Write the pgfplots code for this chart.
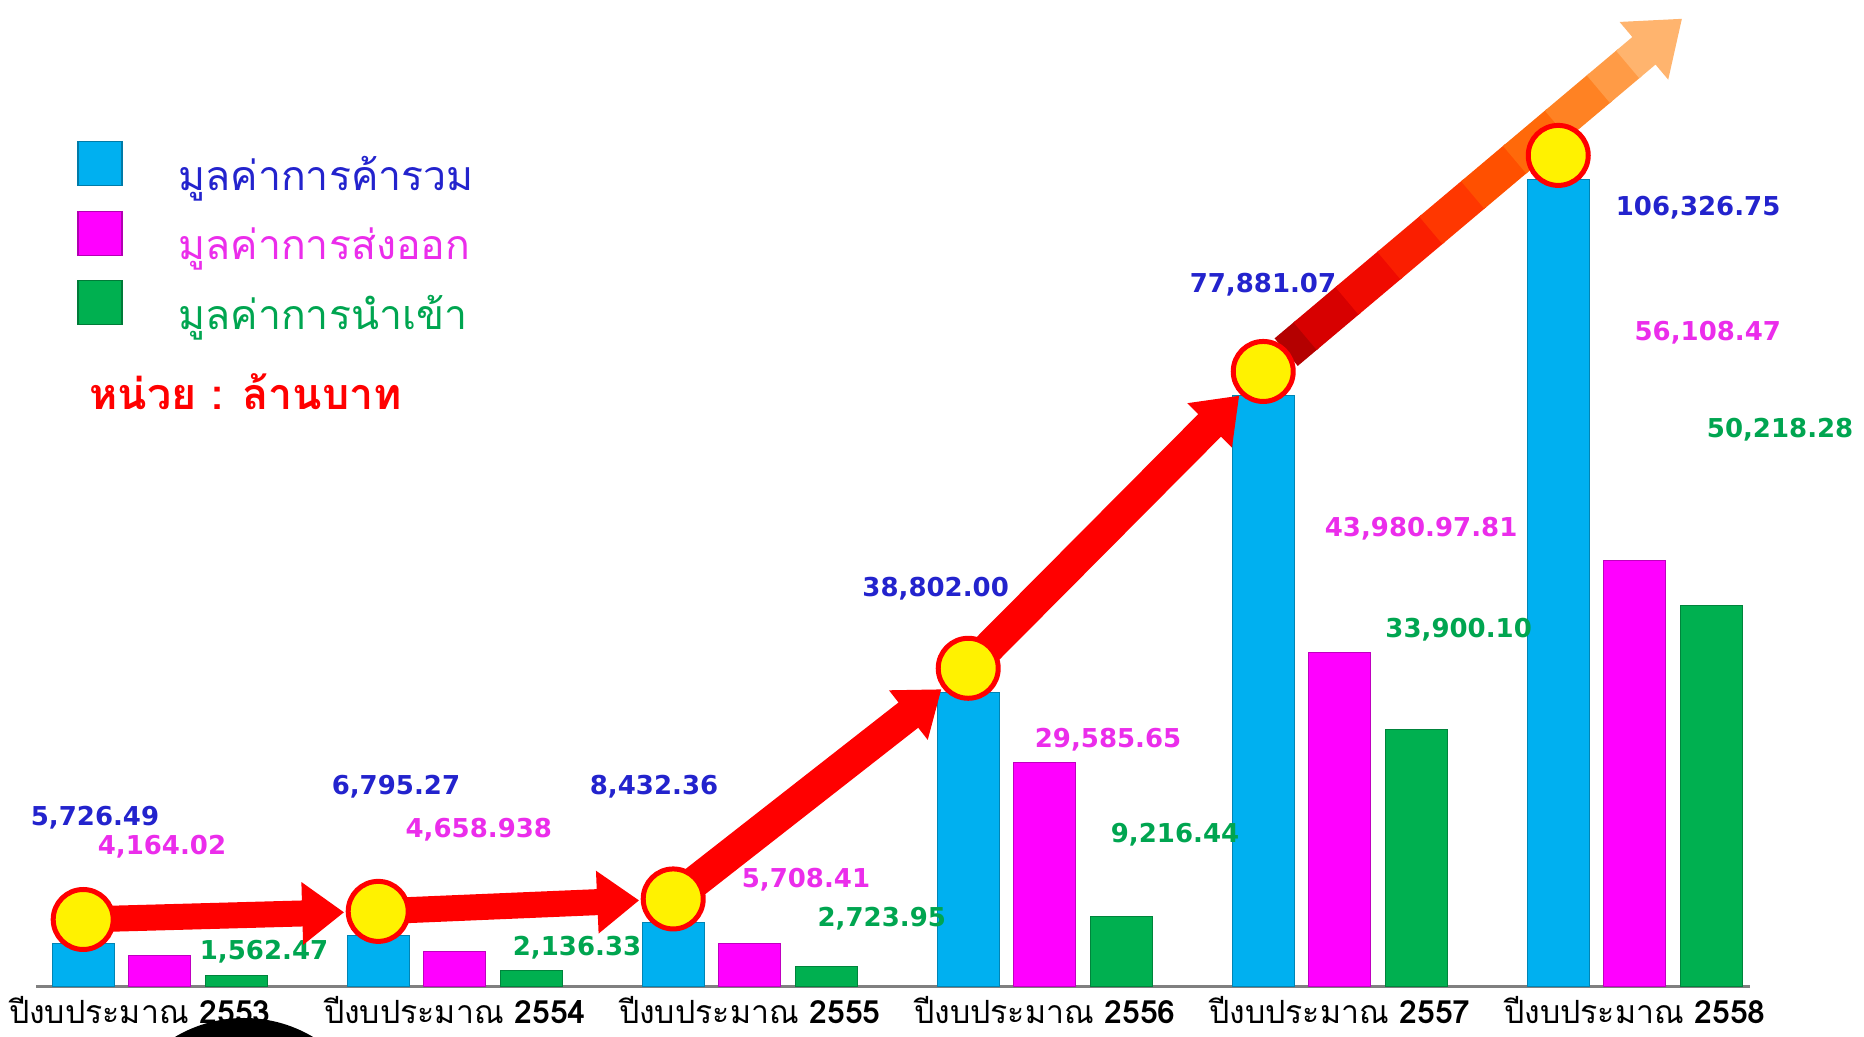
\documentclass[border=0pt]{standalone}
\usepackage{pgfplots}
\pgfplotsset{compat=1.18}
\usepackage{fontspec}
\setmainfont{DejaVu Sans}
\newfontfamily\thai[Script=Thai]{Loma}
\usetikzlibrary{arrows.meta,calc}

\definecolor{barblue}{RGB}{0,176,240}
\definecolor{barpink}{RGB}{255,0,255}
\definecolor{bargreen}{RGB}{0,176,80}
\definecolor{lblblue}{RGB}{35,35,205}
\definecolor{lblpink}{RGB}{235,45,235}
\definecolor{lblgreen}{RGB}{0,165,80}
\definecolor{arrred}{RGB}{255,0,0}
\definecolor{g0}{RGB}{180,0,0}
\definecolor{g1}{RGB}{215,0,0}
\definecolor{g2}{RGB}{240,10,0}
\definecolor{g3}{RGB}{250,30,0}
\definecolor{g4}{RGB}{255,55,0}
\definecolor{g5}{RGB}{255,80,0}
\definecolor{g6}{RGB}{255,105,10}
\definecolor{g7}{RGB}{255,130,35}
\definecolor{g8}{RGB}{255,155,70}
\definecolor{g9}{RGB}{255,180,110}

\tikzset{
  vl/.style={font=\bfseries\fontsize{13}{13}\selectfont, inner sep=0pt},
  arr/.style={draw=arrred, -{Triangle[width=30pt,length=21pt]},
              shorten <=14pt, shorten >=17pt},
  gp/.style={line width=18pt},
}

\begin{document}
\begin{tikzpicture}
\path[use as bounding box] (0,0) rectangle (932pt,518.5pt);
\begin{axis}[
  at={(18pt,25pt)}, anchor=south west,
  scale only axis, width=857pt, height=478.5pt,
  xmin=-0.42, xmax=5.39, ymin=0, ymax=126000,
  clip=false,
  axis x line*=bottom, hide y axis,
  x axis line style={draw=gray, line width=1.5pt, -},
  xtick={1,2,3,4,5},
  xticklabels={{ปีงบประมาณ \textbf{2554}},{ปีงบประมาณ \textbf{2555}},
               {ปีงบประมาณ \textbf{2556}},{ปีงบประมาณ \textbf{2557}},{ปีงบประมาณ \textbf{2558}}},
  extra x ticks={0},
  extra x tick labels={{ปีงบประมาณ \textbf{2553}}},
  extra x tick style={xticklabel style={xshift=-10pt}},
  major tick length=0pt,
  xticklabel style={font=\thai\fontsize{16}{16}\selectfont, text=black, anchor=north, yshift=-1pt},
  legend style={at={(rel axis cs:0.0239,0.8845)}, anchor=north west, draw=none, fill=none,
                inner sep=0pt, row sep=6.9pt, column sep=26pt,
                font=\thai\fontsize{20.5}{20.5}\selectfont},
  legend cell align=left,
]

% bars
\addplot[ybar, bar width=0.21, bar shift=-0.26, fill=barblue, draw=barblue!75!black, line width=0.5pt,
  legend image code/.code={\fill[barblue, draw=barblue!70!black, line width=0.6pt] (0pt,-5.4pt) rectangle (22pt,16.6pt);}]
  coordinates {(0,5726.49) (1,6795.27) (2,8432.36) (3,38802.00) (4,77881.07) (5,106326.75)};
\addlegendentry[text=lblblue]{มูลค่าการค้ารวม}
\addplot[ybar, bar width=0.21, bar shift=0, fill=barpink, draw=barpink!75!black, line width=0.5pt,
  legend image code/.code={\fill[barpink, draw=barpink!70!black, line width=0.6pt] (0pt,-5.4pt) rectangle (22pt,16.6pt);}]
  coordinates {(0,4164.02) (1,4658.938) (2,5708.41) (3,29585.65) (4,43980.97) (5,56108.47)};
\addlegendentry[text=lblpink]{มูลค่าการส่งออก}
\addplot[ybar, bar width=0.21, bar shift=0.26, fill=bargreen, draw=bargreen!75!black, line width=0.5pt,
  legend image code/.code={\fill[bargreen, draw=bargreen!70!black, line width=0.6pt] (0pt,-5.4pt) rectangle (22pt,16.6pt);}]
  coordinates {(0,1562.47) (1,2136.33) (2,2723.95) (3,9216.44) (4,33900.10) (5,50218.28)};
\addlegendentry[text=lblgreen]{มูลค่าการนำเข้า}

% value labels
\node[vl, text=lblblue]  at (axis cs:-0.22,22251) {5,726.49};
\node[vl, text=lblpink]  at (axis cs:0.007,18433) {4,164.02};
\node[vl, text=lblgreen] at (axis cs:0.353,4608) {1,562.47};
\node[vl, text=lblblue]  at (axis cs:0.800,26333) {6,795.27};
\node[vl, text=lblpink]  at (axis cs:1.081,20671) {4,658.938};
\node[vl, text=lblgreen] at (axis cs:1.414,5135) {2,136.33};
\node[vl, text=lblblue]  at (axis cs:1.675,26333) {8,432.36};
\node[vl, text=lblpink]  at (axis cs:2.190,14088) {5,708.41};
\node[vl, text=lblgreen] at (axis cs:2.447,8953) {2,723.95};
\node[vl, text=lblblue, anchor=west] at (axis cs:2.380,52403) {38,802.00};
\node[vl, text=lblpink]  at (axis cs:3.214,32521) {29,585.65};
\node[vl, text=lblgreen] at (axis cs:3.441,20013) {9,216.44};
\node[vl, text=lblblue]  at (axis cs:3.739,92429) {77,881.07};
\node[vl, text=lblpink]  at (axis cs:4.275,60303) {43,980.97.81};
\node[vl, text=lblgreen, anchor=west] at (axis cs:4.153,47004) {33,900.10};
\node[vl, text=lblblue]  at (axis cs:5.214,102567) {106,326.75};
\node[vl, text=lblpink]  at (axis cs:5.247,86109) {56,108.47};
\node[vl, text=lblgreen] at (axis cs:5.492,73338) {50,218.28};

\node[text=red, font=\thai\bfseries\fontsize{21.5}{21.5}\selectfont, anchor=west, inner sep=0pt]
  at (rel axis cs:0.031,0.622) {หน่วย : ล้านบาท};

% growth arrows between the tops of the total bars
\addplot[arr, line width=13pt, forget plot, yshift=12pt] coordinates {(-0.26,5726.49) (0.74,6795.27)};
\addplot[arr, line width=13pt, forget plot, yshift=12pt] coordinates {(0.74,6795.27) (1.74,8432.36)};
\addplot[arr, line width=16pt, forget plot, yshift=12pt] coordinates {(1.74,8432.36) (2.74,38802.00)};
\addplot[arr, line width=16pt, forget plot, yshift=12pt] coordinates {(2.74,38802.00) (3.74,77881.07)};

% last arrow, red fading into orange
\coordinate (A) at ([yshift=12pt]axis cs:3.74,77881.07);
\coordinate (B) at (axis cs:5.16,127500);
\draw[gp, draw=g0, shorten <=15pt] (A) -- ($(A)!0.105!(B)$);
\draw[gp, draw=g1] ($(A)!0.10!(B)$) -- ($(A)!0.205!(B)$);
\draw[gp, draw=g2] ($(A)!0.20!(B)$) -- ($(A)!0.305!(B)$);
\draw[gp, draw=g3] ($(A)!0.30!(B)$) -- ($(A)!0.405!(B)$);
\draw[gp, draw=g4] ($(A)!0.40!(B)$) -- ($(A)!0.505!(B)$);
\draw[gp, draw=g5] ($(A)!0.50!(B)$) -- ($(A)!0.605!(B)$);
\draw[gp, draw=g6] ($(A)!0.60!(B)$) -- ($(A)!0.705!(B)$);
\draw[gp, draw=g7] ($(A)!0.70!(B)$) -- ($(A)!0.805!(B)$);
\draw[gp, draw=g8] ($(A)!0.80!(B)$) -- ($(A)!0.875!(B)$);
\draw[gp, draw=g9, -{Triangle[width=36pt,length=25pt]}] ($(A)!0.87!(B)$) -- (B);

% markers on the total bars
\addplot[only marks, forget plot, yshift=12pt, mark=*, mark size=15pt,
  mark options={fill=yellow, draw=red, line width=2.5pt}]
  coordinates {(-0.26,5726.49) (0.74,6795.27) (1.74,8432.36) (2.74,38802.00) (3.74,77881.07) (4.74,106326.75)};
\end{axis}
\fill[black] (122pt,-58pt) circle (67.5pt);
\end{tikzpicture}
\end{document}
